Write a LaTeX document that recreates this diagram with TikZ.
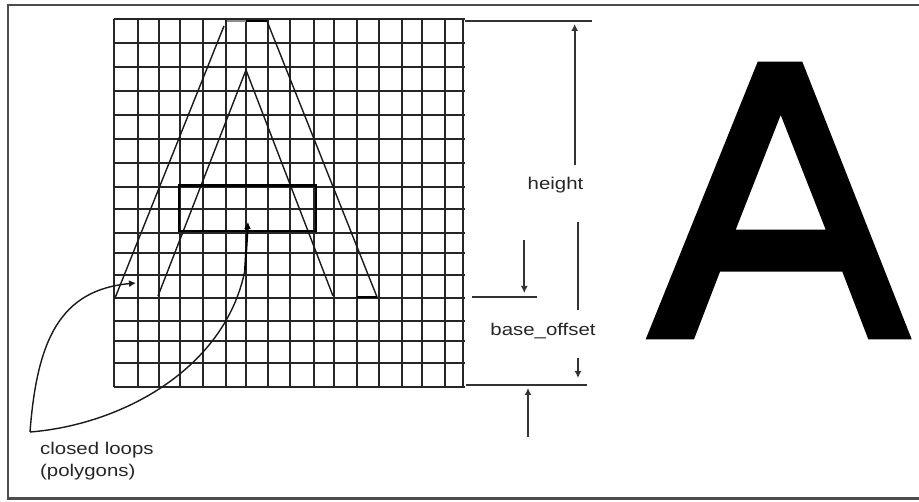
\documentclass[tikz,border=0pt]{standalone}
\usepackage{fontspec}
\setmainfont[FakeStretch=1.2]{Liberation Sans}
\usetikzlibrary{arrows.meta}
\tikzset{
  gridline/.style={line width=2pt,black!85},
  outline/.style={line width=1.4pt,black!90},
  heavy/.style={line width=2.6pt,black},
  dim/.style={line width=2pt,black!80},
  tip/.style={-{Latex[length=7pt,width=7pt]}},
  lbl/.style={font=\fontsize{17pt}{22pt}\selectfont,text=black!85,inner sep=0pt,align=left}
}
\begin{document}
\begin{tikzpicture}[x=1pt,y=-1pt]
\useasboundingbox (0,0) rectangle (919,502);
\fill[white] (0,0) rectangle (919,502);
\draw[line width=2.4pt,black!70] (919,5) -- (8,5) -- (8,498.5) -- (919,498.5);
\foreach \x in {114,137.7,159,180.3,202.7,226.3,246,268.3,290.3,314.3,334.3,356.7,379,402.3,422.3,445,462.7}
  \draw[gridline] (\x,19) -- (\x,386.7);
\foreach \y in {19,42.7,66.7,90.7,115,138.7,162.7,186.7,209,232.7,252.7,274.7,298.3,320.7,340.7,362.7,386.7}
  \draw[gridline] (114,\y) -- (465,\y);
\coordinate (a1) at (115,298);
\coordinate (a2) at (224,26);
\coordinate (a3) at (227,21);
\coordinate (a4) at (246,21);
\coordinate (a5) at (267,21);
\coordinate (a6) at (377,297);
\coordinate (a7) at (357,297);
\coordinate (b1) at (158,296);
\coordinate (b2) at (246,70);
\coordinate (b3) at (333,296);
\draw[outline] (a1) -- (a2);
\draw[line width=2pt,black!45] (a3) -- (a4);
\draw[heavy] (a4) -- (a5);
\draw[outline] (a5) -- (a6);
\draw[heavy] (a6) -- (a7);
\draw[outline] (b1) -- (b2) -- (b3);
\draw[heavy] (179,185.5) rectangle (316,231);
\coordinate (root) at (30,432);
\coordinate (t1) at (136,283);
\coordinate (t2) at (248,222);
\draw[outline,tip] (root) .. controls (37,340) and (60,290) .. (t1);
\draw[outline] (root) .. controls (120,425) and (225,370) .. (245,270);
\draw[line width=2pt,tip] (245,270) -- (t2);
\draw[dim] (465,20.7) -- (592,20.7);
\draw[dim] (466,384.7) -- (587,384.7);
\draw[dim] (472,296.7) -- (537,296.7);
\coordinate (h1) at (574.7,165);
\coordinate (h2) at (574.7,24);
\draw[dim,tip] (h1) -- (h2);
\draw[dim] (578,222) -- (578,310);
\draw[dim,tip] (578,358) -- (578,378);
\draw[dim,tip] (524.3,240) -- (524.3,293);
\draw[dim,tip] (528,437) -- (528,388);
\node[lbl,anchor=base] (height) at (555.5,190) {height};
\node[lbl,anchor=base] (base) at (543,336) {base\_offset};
\node[lbl,anchor=north west] (loops) at (40,441.5) {closed loops\\(polygons)};
\fill[black,even odd rule] (645.7,339.3) -- (757.7,61.7) -- (802.3,61.7) -- (911.7,339.3) -- (868.3,339.3) -- (842.3,271.7) -- (720,271.7) -- (694,339.3) -- cycle
  (735.7,229.7) -- (825.7,229.7) -- (780.7,115) -- cycle;
\end{tikzpicture}
\end{document}
